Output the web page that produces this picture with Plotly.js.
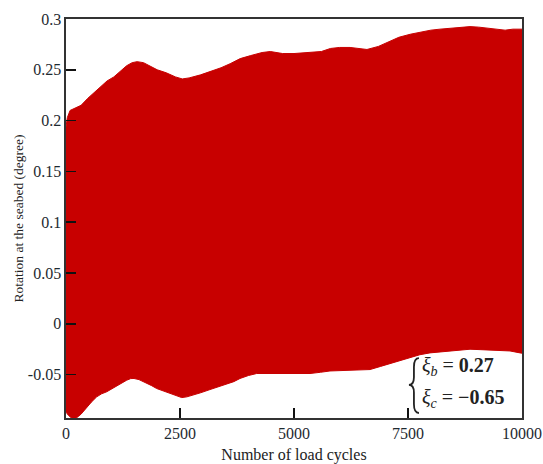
<!DOCTYPE html>
<html>
<head>
<meta charset="utf-8">
<script src="https://cdn.plot.ly/plotly-3.0.1.min.js"></script>
<style>html,body{margin:0;padding:0;background:#fff;}#chart{width:543px;height:464px;}</style>
</head>
<body>
<div id="chart"></div>
<script>
// Upper envelope of the rotation response (degree) vs load cycles
const upperCycles = [0, 30, 90, 180, 330, 480, 620, 750, 900, 1050, 1200, 1330, 1450, 1560, 1700, 1830, 2000, 2200, 2400, 2550, 2700, 2950, 3200, 3400, 3600, 3820, 4050, 4300, 4480, 4750, 5000, 5350, 5600, 5800, 6000, 6230, 6600, 6850, 7100, 7300, 7550, 7750, 8000, 8200, 8420, 8650, 8860, 9050, 9300, 9500, 9630, 9800, 10000];
const upperRot = [0.194, 0.203, 0.210, 0.212, 0.215, 0.222, 0.228, 0.233, 0.239, 0.243, 0.249, 0.254, 0.257, 0.258, 0.257, 0.254, 0.250, 0.247, 0.243, 0.241, 0.242, 0.245, 0.249, 0.252, 0.256, 0.261, 0.264, 0.267, 0.268, 0.266, 0.266, 0.267, 0.268, 0.271, 0.272, 0.272, 0.270, 0.273, 0.278, 0.282, 0.285, 0.287, 0.289, 0.290, 0.291, 0.292, 0.2925, 0.292, 0.291, 0.290, 0.289, 0.290, 0.290];

// Lower envelope
const lowerCycles = [0, 50, 150, 235, 330, 454, 560, 673, 780, 893, 1000, 1112, 1220, 1331, 1420, 1491, 1600, 1770, 1880, 1989, 2130, 2281, 2400, 2537, 2650, 2792, 2950, 3158, 3350, 3524, 3680, 3816, 4000, 4182, 4547, 4985, 5351, 5580, 5789, 6228, 6667, 6900, 7105, 7330, 7544, 7760, 7982, 8200, 8421, 8640, 8860, 9080, 9298, 9520, 9737, 9956, 10000];
const lowerRot = [-0.087, -0.090, -0.094, -0.0925, -0.089, -0.082, -0.077, -0.072, -0.069, -0.067, -0.064, -0.0615, -0.058, -0.0556, -0.054, -0.0539, -0.055, -0.0583, -0.061, -0.0638, -0.066, -0.0687, -0.071, -0.0727, -0.072, -0.0704, -0.068, -0.0648, -0.062, -0.0599, -0.057, -0.0539, -0.051, -0.049, -0.049, -0.049, -0.049, -0.0478, -0.0465, -0.0458, -0.0451, -0.042, -0.0392, -0.036, -0.0327, -0.0305, -0.0287, -0.0277, -0.0268, -0.026, -0.0251, -0.0255, -0.0261, -0.0265, -0.0268, -0.0287, -0.029];

// Tick labels
const xTickVals = [0, 2500, 5000, 7500, 10000];
const xTickText = ["0", "2500", "5000", "7500", "10000"];
const yTickVals = [-0.05, 0, 0.05, 0.1, 0.15, 0.2, 0.25, 0.3];
const yTickText = ["-0.05", "0", "0.05", "0.1", "0.15", "0.2", "0.25", "0.3"];

const red = "#c80000";
const serif = "Liberation Serif, Times New Roman, serif";

const traces = [
  {x: lowerCycles, y: lowerRot, type: "scatter", mode: "lines", line: {color: red, width: 1}, hoverinfo: "skip", showlegend: false},
  {x: upperCycles, y: upperRot, type: "scatter", mode: "lines", fill: "tonexty", fillcolor: red, line: {color: red, width: 1}, hoverinfo: "skip", showlegend: false}
];

const layout = {
  width: 543, height: 464,
  margin: {l: 66, r: 21, t: 19, b: 46},
  paper_bgcolor: "#fff", plot_bgcolor: "#fff",
  font: {family: serif, color: "#1e2a30"},
  xaxis: {
    range: [0, 10000], tickvals: xTickVals, ticktext: xTickText,
    ticks: "inside", ticklen: 10, tickwidth: 1.6, tickcolor: "#111",
    showline: true, linecolor: "#333", linewidth: 1.6, mirror: true,
    showgrid: false, zeroline: false,
    tickfont: {size: 16, family: serif},
    title: {text: "Number of load cycles", font: {size: 16, family: serif, color: "#222"}, standoff: 8}
  },
  yaxis: {
    range: [-0.0928, 0.3], tickvals: yTickVals, ticktext: yTickText,
    ticks: "inside", ticklen: 10, tickwidth: 1.6, tickcolor: "#111",
    showline: true, linecolor: "#333", linewidth: 1.6, mirror: true,
    showgrid: false, zeroline: false,
    tickfont: {size: 16, family: serif},
    title: {text: "Rotation at the seabed (degree)", font: {size: 13.5, family: serif, color: "#222"}, standoff: 1}
  },
  shapes: [
    {type: "path", xref: "paper", yref: "paper",
     path: "M 0.774,0.150 Q 0.763,0.150 0.763,0.128 L 0.763,0.102 Q 0.763,0.083 0.752,0.083 Q 0.763,0.083 0.763,0.064 L 0.763,0.035 Q 0.763,0.0125 0.774,0.0125",
     line: {color: "#222", width: 1.8}}
  ],
  annotations: [
    {xref: "paper", yref: "paper", x: 0.777, y: 0.128, xanchor: "left", yanchor: "middle",
     text: "<i>ξ</i><sub><i>b</i></sub> = <b>0.27</b>", showarrow: false, font: {size: 20, family: serif, color: "#222"}},
    {xref: "paper", yref: "paper", x: 0.777, y: 0.048, xanchor: "left", yanchor: "middle",
     text: "<i>ξ</i><sub><i>c</i></sub> = <b>−0.65</b>", showarrow: false, font: {size: 20, family: serif, color: "#222"}}
  ]
};

Plotly.newPlot("chart", traces, layout, {staticPlot: true, displayModeBar: false});
</script>
</body>
</html>
